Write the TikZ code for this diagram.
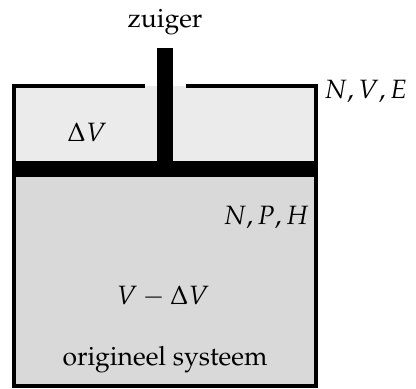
\documentclass[tikz,border=0pt]{standalone}
\usepackage[T1]{fontenc}
\usepackage{mathpazo}
\tikzset{
  wall/.style={line width=3.5pt, line cap=rect},
  lbl/.style={inner sep=0pt, font=\fontsize{26.5}{30}\selectfont},
}
\begin{document}
\begin{tikzpicture}[x=1pt,y=-1pt]
\useasboundingbox (0,0) rectangle (416,389);
% fills
\fill[black!8] (14,86) rectangle (316,169);
\fill[black!15] (14,169) rectangle (316,386);
% walls
\draw[wall] (143,86) -- (14,86) -- (14,386) -- (316,386) -- (316,86) -- (188,86);
% piston
\fill (14,161) rectangle (318,177);
\fill (157,48) rectangle (173,161);
% labels
\node[lbl] (zuiger) at (165,22) {zuiger};
\node[lbl, anchor=west] (nve) at (324,91) {$N,V,E$};
\node[lbl] (dv) at (87,132) {$\Delta V$};
\node[lbl, anchor=east] (nph) at (309,217) {$N,P,H$};
\node[lbl] (vdv) at (163,296) {$V-\Delta V$};
\node[lbl] (orig) at (165,360) {origineel systeem};
\end{tikzpicture}
\end{document}
